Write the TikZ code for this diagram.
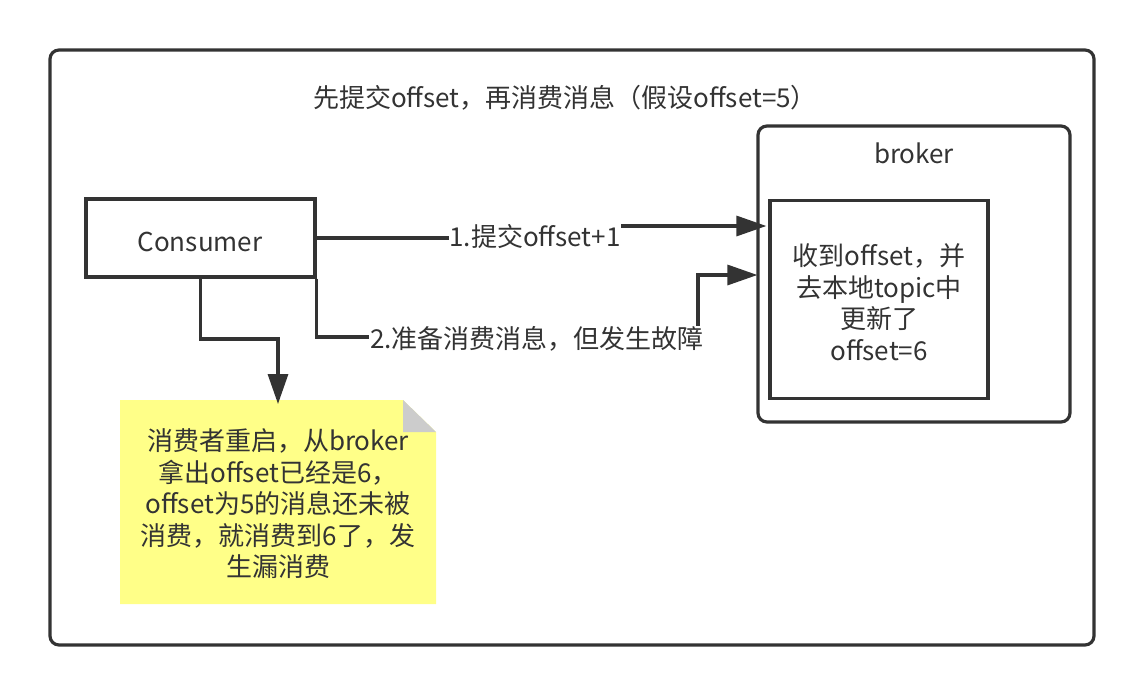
\documentclass[tikz,border=0pt]{standalone}
\usepackage{fontspec}
\setmainfont{Noto Sans CJK SC}
\usetikzlibrary{arrows.meta}
\definecolor{ink}{HTML}{333333}
\definecolor{noteyellow}{HTML}{FFFF88}
\definecolor{foldgray}{HTML}{CCCCCC}
\begin{document}
\begin{tikzpicture}[x=1pt,y=-1pt,
  every node/.style={text=ink,font=\fontsize{26pt}{31.5pt}\selectfont},
  frame/.style={draw=ink,line width=3.2pt,rounded corners=9pt,inner sep=0pt},
  sqbox/.style={draw=ink,line width=3.2pt,inner sep=0pt},
  conn/.style={draw=ink,line width=3.2pt,-{Triangle[length=30pt,width=20pt]}},
  lbl/.style={fill=white,inner sep=1pt},
  plain/.style={inner sep=0pt}]
\useasboundingbox (0,0) rectangle (1144,696);
\fill[white] (0,0) rectangle (1144,696);
% outer frame
\node[frame,minimum width=1044pt,minimum height=595pt] (outer) at (572,347.5) {};
\node[plain] (title) at (565,98) {先提交offset，再消费消息（假设offset=5）};
% broker
\node[frame,minimum width=312pt,minimum height=296pt] (broker) at (914,274) {};
\node[plain] (brokerlbl) at (914,153) {broker};
\node[sqbox,minimum width=218pt,minimum height=198pt] (inner) at (879,299.5) {};
\node[plain,align=center] (innertext) at (879,302)
  {收到offset，并\\去本地topic中\\更新了\\offset=6};
% consumer
\node[sqbox,minimum width=229pt,minimum height=78pt] (cons) at (200.5,238) {};
\node[plain] (constext) at (200,242) {Consumer};
% note
\fill[noteyellow] (120,400) -- (403,400) -- (436,432) -- (436,604) -- (120,604) -- cycle;
\fill[foldgray] (403,400) -- (403,432) -- (436,432) -- cycle;
\node[plain,align=center] (note) at (278,504)
  {消费者重启，从broker\\拿出offset已经是6，\\offset为5的消息还未被\\消费，就消费到6了，发\\生漏消费};
\coordinate (notetop) at (278,404);
% connectors
\coordinate (b1) at (535,238);
\coordinate (b1y) at (0,226);
\draw[conn] (cons.east) -- (b1) -- (b1 |- b1y) -- ([xshift=-2pt]inner.west |- b1y);
\node[lbl] (l1) at (535,237) {1.提交offset+1};
\coordinate (b2) at (698,337);
\coordinate (b2y) at (0,275);
\draw[conn] (cons.south east) |- (b2) -- (b2 |- b2y) -- ([xshift=1pt]broker.west |- b2y);
\node[lbl] (l2) at (537,339) {2.准备消费消息，但发生故障};
\coordinate (b3) at (278,339);
\draw[conn] (cons.south) |- (b3) -- (notetop);
\end{tikzpicture}
\end{document}
